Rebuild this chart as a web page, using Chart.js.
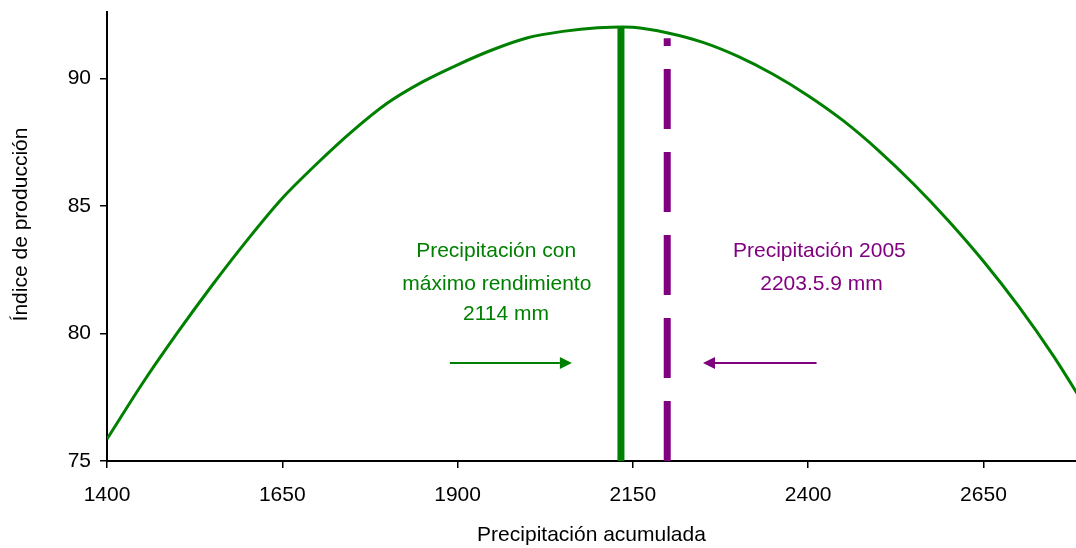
<!DOCTYPE html>
<html>
<head>
<meta charset="utf-8">
<script src="https://cdn.jsdelivr.net/npm/chart.js@4.4.1/dist/chart.umd.min.js"></script>
<style>
  html, body { margin: 0; padding: 0; background: #fff; }
  #wrap { width: 1076px; height: 548px; }
</style>
</head>
<body>
<div id="wrap"><canvas id="rendimientoChart"></canvas></div>
<script>
// datos
const precipitacion = [1400, 1450, 1500, 1550, 1600, 1650, 1700, 1750, 1800, 1850, 1900, 1950, 2000, 2050,
    2100, 2150, 2200, 2250, 2300, 2350, 2400, 2450, 2500, 2550, 2600, 2650, 2700, 2750, 2800];
const indice = [75.86, 78.02, 80.01, 81.89, 83.66, 85.30, 86.67, 87.93, 89.03, 89.86, 90.53, 91.12, 91.59, 91.84,
    91.98, 92.00, 91.78, 91.41, 90.86, 90.16, 89.32, 88.34, 87.18, 85.87, 84.42, 82.83, 81.07, 79.11, 76.92];

const maxRendX = [2133, 2133];
const maxRendY = [75, 92.0];
const precip2005X = [2199, 2199];
const precip2005Y = [75, 91.57];

const ticksX = [1400, 1650, 1900, 2150, 2400, 2650];
const ticksY = [75, 80, 85, 90];

const verde = '#008000';
const morado = '#800080';
const fuente = '"Liberation Sans", Arial, sans-serif';

const toPoints = (xs, ys) => xs.map((x, i) => ({ x: x, y: ys[i] }));

const flecha = (ctx, x0, x1, y, color) => {
    const dir = x1 > x0 ? 1 : -1;
    const head = 12;
    ctx.strokeStyle = color;
    ctx.fillStyle = color;
    ctx.lineWidth = 2;
    ctx.beginPath();
    ctx.moveTo(x0, y);
    ctx.lineTo(x1 - dir * head, y);
    ctx.stroke();
    ctx.beginPath();
    ctx.moveTo(x1, y);
    ctx.lineTo(x1 - dir * head, y - 6);
    ctx.lineTo(x1 - dir * head, y + 6);
    ctx.closePath();
    ctx.fill();
};

const notas = {
    id: 'notas',
    afterDatasetsDraw: (chart) => {
        const ctx = chart.ctx;
        const x = chart.scales.x;
        const y = chart.scales.y;
        const area = chart.chartArea;
        ctx.save();
        ctx.font = '21px ' + fuente;
        ctx.textAlign = 'center';
        ctx.textBaseline = 'middle';

        ctx.fillStyle = verde;
        ctx.fillText('Precipitación con', x.getPixelForValue(1955), y.getPixelForValue(83.21));
        ctx.fillText('máximo rendimiento', x.getPixelForValue(1956), y.getPixelForValue(81.93));
        ctx.fillText('2114 mm', x.getPixelForValue(1969), y.getPixelForValue(80.74));
        flecha(ctx, x.getPixelForValue(1889), x.getPixelForValue(2063), y.getPixelForValue(78.84), verde);

        ctx.fillStyle = morado;
        ctx.fillText('Precipitación 2005', x.getPixelForValue(2416), y.getPixelForValue(83.21));
        ctx.fillText('2203.5.9 mm', x.getPixelForValue(2419), y.getPixelForValue(81.93));
        flecha(ctx, x.getPixelForValue(2412), x.getPixelForValue(2250), y.getPixelForValue(78.84), morado);

        // titulo del eje Y, algo por encima del centro como en el original
        ctx.fillStyle = '#000';
        ctx.translate(21, (area.top + area.bottom) / 2 - 12);
        ctx.rotate(-Math.PI / 2);
        ctx.fillText('Índice de producción', 0, 0);
        ctx.restore();
    }
};

const ejeComun = {
    grid: {
        display: true,
        drawOnChartArea: false,
        drawTicks: true,
        tickLength: 7,
        color: '#000',
        lineWidth: 1.5
    },
    border: { display: true, color: '#000', width: 2 }
};

new Chart(document.getElementById('rendimientoChart'), {
    type: 'scatter',
    data: {
        datasets: [
            {
                label: 'Índice de producción',
                data: toPoints(precipitacion, indice),
                showLine: true,
                borderColor: verde,
                borderWidth: 3,
                pointRadius: 0,
                tension: 0.3
            },
            {
                label: 'Máximo rendimiento',
                data: toPoints(maxRendX, maxRendY),
                showLine: true,
                borderColor: verde,
                borderWidth: 7,
                pointRadius: 0
            },
            {
                label: 'Precipitación 2005',
                data: toPoints(precip2005X, precip2005Y),
                showLine: true,
                borderColor: morado,
                borderWidth: 7,
                borderDash: [60, 23],
                borderCapStyle: 'butt',
                pointRadius: 0
            }
        ]
    },
    plugins: [notas],
    options: {
        responsive: true,
        maintainAspectRatio: false,
        animation: false,
        devicePixelRatio: 1,
        layout: { padding: { top: 12, right: 0, bottom: 0, left: 0 } },
        plugins: {
            legend: { display: false },
            tooltip: { enabled: false }
        },
        scales: {
            x: {
                ...ejeComun,
                type: 'linear',
                min: 1400,
                max: 2782,
                afterBuildTicks: (scale) => { scale.ticks = ticksX.map(v => ({ value: v })); },
                afterFit: (scale) => { scale.height = 87; scale.paddingLeft = 0; scale.paddingRight = 0; },
                ticks: {
                    color: '#000',
                    padding: 15,
                    maxRotation: 0,
                    font: { family: fuente, size: 21 },
                    callback: (v) => String(v)
                },
                title: {
                    display: true,
                    color: '#000',
                    text: 'Precipitación acumulada',
                    font: { family: fuente, size: 21 },
                    padding: { top: 0, bottom: 0 }
                }
            },
            y: {
                ...ejeComun,
                type: 'linear',
                min: 75,
                max: 92.6,
                afterBuildTicks: (scale) => { scale.ticks = ticksY.map(v => ({ value: v })); },
                afterFit: (scale) => { scale.width = 107; scale.paddingTop = 0; scale.paddingBottom = 0; },
                ticks: {
                    color: '#000',
                    padding: 9,
                    font: { family: fuente, size: 21 },
                    callback: (v) => String(v)
                }
            }
        }
    }
});
</script>
</body>
</html>
